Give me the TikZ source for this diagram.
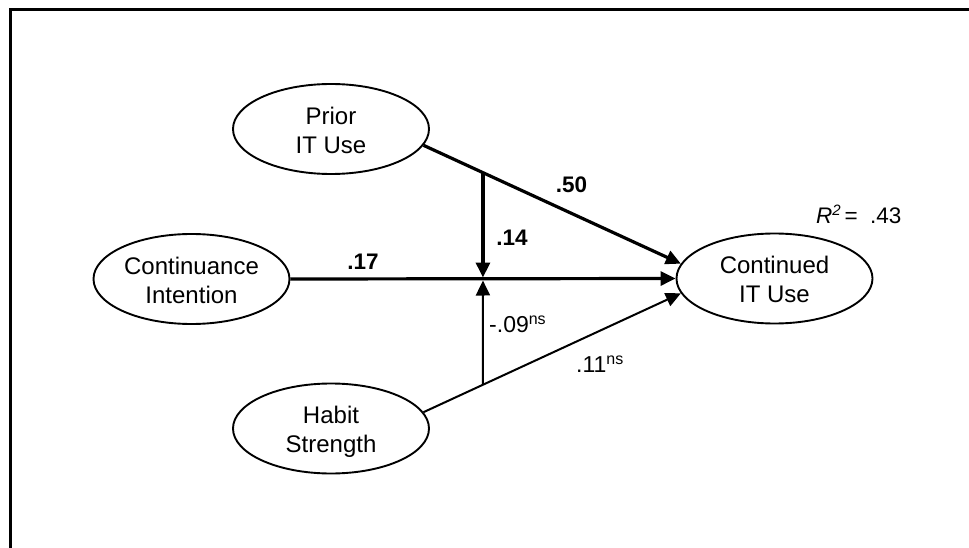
\documentclass[tikz,border=0pt]{standalone}
\usepackage{fontspec}
\setmainfont{Liberation Sans}
\usetikzlibrary{shapes.geometric,arrows.meta,calc}
\newcommand{\twolines}[2]{\raisebox{0pt}[0pt][0pt]{\makebox[0pt]{\raisebox{4.7pt}{\makebox[0pt]{#1}}\raisebox{-24.3pt}{\makebox[0pt]{#2}}}}}
\newcommand{\nsmark}{\raisebox{8pt}{\fontsize{16}{18}\selectfont ns}}
\begin{document}
\begin{tikzpicture}[x=1pt,y=-1pt,
  construct/.style={ellipse,draw,line width=1.9pt,minimum width=196pt,minimum height=90pt,inner sep=0pt,
    font=\fontsize{24}{29}\selectfont},
  strong/.style={line width=3.2pt,-{Triangle[length=15pt,width=14pt]}},
  weak/.style={line width=2pt,-{Triangle[length=15pt,width=14pt]}},
  boldlbl/.style={font=\fontsize{22.5}{26}\selectfont\bfseries,inner sep=0pt},
  plainlbl/.style={font=\fontsize{23}{27}\selectfont,inner sep=0pt,anchor=base west}]
\useasboundingbox (0,0) rectangle (969,548);
\draw[line width=3pt] (975,10) -- (10,10) -- (10,555);

\node[construct] (prior) at (331,129) {\twolines{Prior}{IT Use}};
\node[construct] (cont) at (191.5,279) {\twolines{Continuance}{Intention}};
\node[construct] (use) at (774.5,278.5) {\twolines{Continued}{IT Use}};
\node[construct] (habit) at (331,428.5) {\twolines{Habit}{Strength}};

\coordinate (m1) at ($(prior.-10)!0.231!(use.171)$);
\coordinate (j) at (m1 |- cont.east);
\coordinate (m2) at (intersection of habit.10--use.189 and m1--j);

\draw[strong] (prior.-10) -- (use.171);
\draw[strong] (cont.east) -- (use.west);
\draw[weak] (habit.10) -- (use.189);
\draw[strong,shorten >=1.5pt] (m1) -- (j);
\draw[weak,shorten >=1.5pt] (m2) -- (j);

\node[boldlbl] (l50) at (571.5,185) {.50};
\node[boldlbl] (l14) at (512,238) {.14};
\node[boldlbl] (l17) at (363,262) {.17};
\node[plainlbl] (l09) at (489,332) {-.09\nsmark};
\node[plainlbl] (l11) at (576,372) {.11\nsmark};
\node[plainlbl,font=\fontsize{22.5}{26}\selectfont] (r2) at (816,223) {\textit{R}\raisebox{8pt}{\fontsize{15}{17}\selectfont\textit{2}}\,= \ .43};
\end{tikzpicture}
\end{document}
